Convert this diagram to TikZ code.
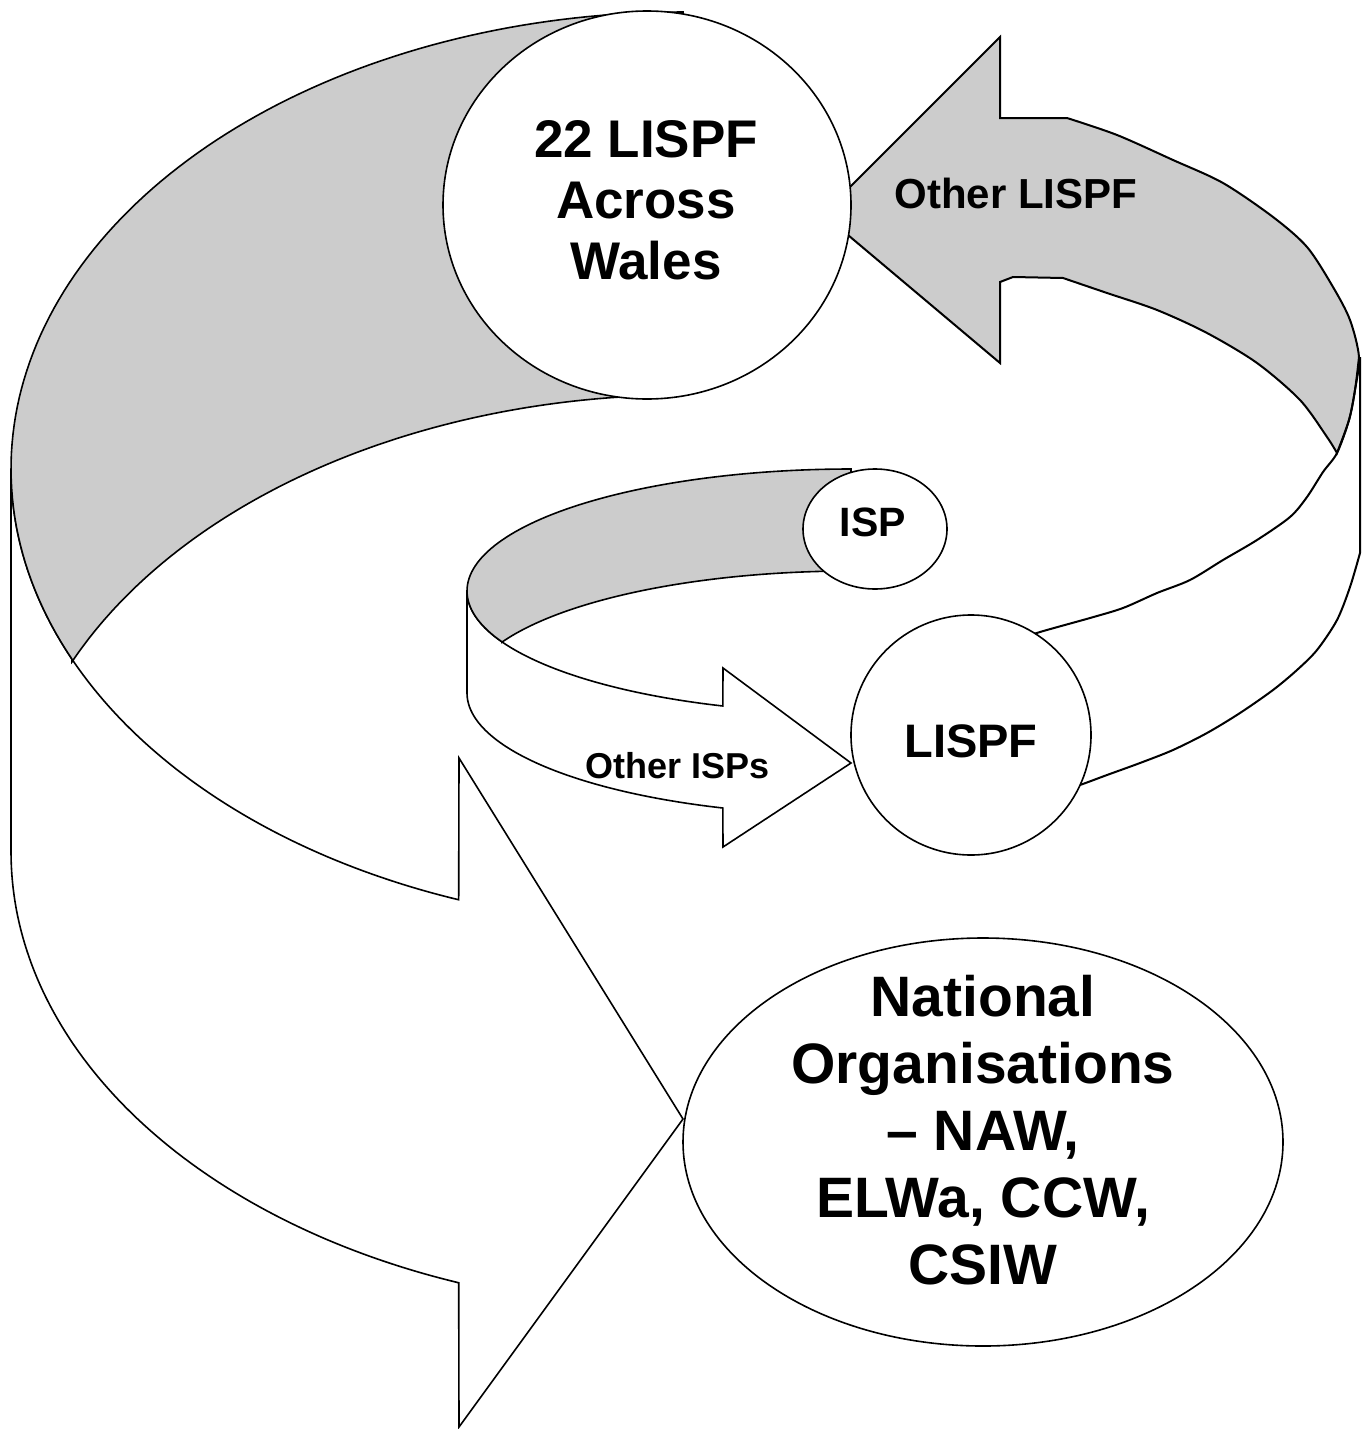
\documentclass[tikz,border=0pt]{standalone}
\usepackage{fontspec}
\setmainfont{Liberation Sans}
\usetikzlibrary{shapes.geometric}
\begin{document}
\begin{tikzpicture}[x=1pt,y=-1pt,
  outl/.style={draw=black, line width=1.6pt, line join=miter},
  band/.style={outl, fill=black!20},
  face/.style={outl, fill=white},
  bubble/.style={draw=black, line width=1.6pt, fill=white, ellipse, inner sep=0pt},
  lbl/.style={inner sep=0pt, align=center}]
\useasboundingbox (0,0) rectangle (1363,1429);

% big ribbon arrow to National Organisations
\path[face] plot[domain=180:109.5, samples=80] ({683+672*cos(\x)},{469+457*sin(\x)})
  -- (459,758) -- (683,1119) -- (459,1427)
  -- plot[domain=109.5:180, samples=80] ({683+672*cos(\x)},{852+457*sin(\x)}) -- cycle;
\path[band] plot[domain=270:155.4, samples=100] ({683+672*cos(\x)},{469+457*sin(\x)})
  -- plot[domain=204.6:270, samples=100] ({683+672*cos(\x)},{852+457*sin(\x)}) -- cycle;

% small ribbon arrow ISP -> LISPF
\path[face] plot[domain=180:109.5, samples=60] ({851+384*cos(\x)},{591+122*sin(\x)})
  -- (723,668) -- (851,763) -- (723,847)
  -- plot[domain=109.5:180, samples=60] ({851+384*cos(\x)},{693+122*sin(\x)}) -- cycle;
\path[band] plot[domain=270:155.4, samples=80] ({851+384*cos(\x)},{591+122*sin(\x)})
  -- plot[domain=204.6:270, samples=80] ({851+384*cos(\x)},{693+122*sin(\x)}) -- cycle;

% ribbon arrow LISPF -> 22 LISPF
\path[band, line width=2pt] (1000,118) -- (1000,37) -- (823,214) -- (1000,363) -- (1000,282) -- (1013,277)
  -- plot[smooth] coordinates {(1063,278) (1107,293) (1157,310) (1207,333) (1257,363) (1300,400) (1327,437) (1337,453)}
  -- plot[smooth] coordinates {(1337,453) (1349,420) (1355,390) (1359,357) (1350,320) (1333,287) (1307,247) (1273,217) (1223,183) (1173,160) (1117,135) (1067,118)}
  -- cycle;
\draw[outl, line width=2pt] plot[smooth] coordinates {(1359,357) (1355,390) (1349,420) (1337,453) (1323,472) (1307,497) (1290,517) (1257,540) (1223,560) (1190,580) (1157,593) (1123,608) (1090,618) (1040,632) (1010,642)};
\draw[outl, line width=2pt] (1360,357) -- (1360,553)
  -- plot[smooth] coordinates {(1360,553) (1350,587) (1337,620) (1317,650) (1297,670) (1273,690) (1240,713) (1207,733) (1173,750) (1140,763) (1107,775) (1080,785) (1050,795)};

% bubbles
\node[bubble, minimum width=408pt, minimum height=388pt] (c22) at (647,205) {};
\node[bubble, minimum width=144pt, minimum height=120pt] (cisp) at (875,529) {};
\node[bubble, minimum width=240pt, minimum height=240pt] (clispf) at (971,735) {};
\node[bubble, minimum width=600pt, minimum height=408pt] (cnat) at (983,1142) {};

% labels
\node[lbl, anchor=north, font=\bfseries\fontsize{53}{61}\selectfont] (t22) at (646,120) {22 LISPF\\Across\\Wales};
\node[lbl, anchor=north, font=\bfseries\fontsize{57}{67}\selectfont] (tnat) at (983,975) {National\\Organisations\\-- NAW,\\ELWa, CCW,\\CSIW};
\node[lbl, anchor=base, font=\bfseries\fontsize{42}{50}\selectfont] (tol) at (1016,208) {Other LISPF};
\node[lbl, anchor=base, font=\bfseries\fontsize{36}{42}\selectfont] (toi) at (678,778) {Other ISPs};
\node[lbl, anchor=base, font=\bfseries\fontsize{41}{48}\selectfont] (tisp) at (873,536) {ISP};
\node[lbl, anchor=base, font=\bfseries\fontsize{47}{55}\selectfont] (tlispf) at (971,757) {LISPF};
\end{tikzpicture}
\end{document}
